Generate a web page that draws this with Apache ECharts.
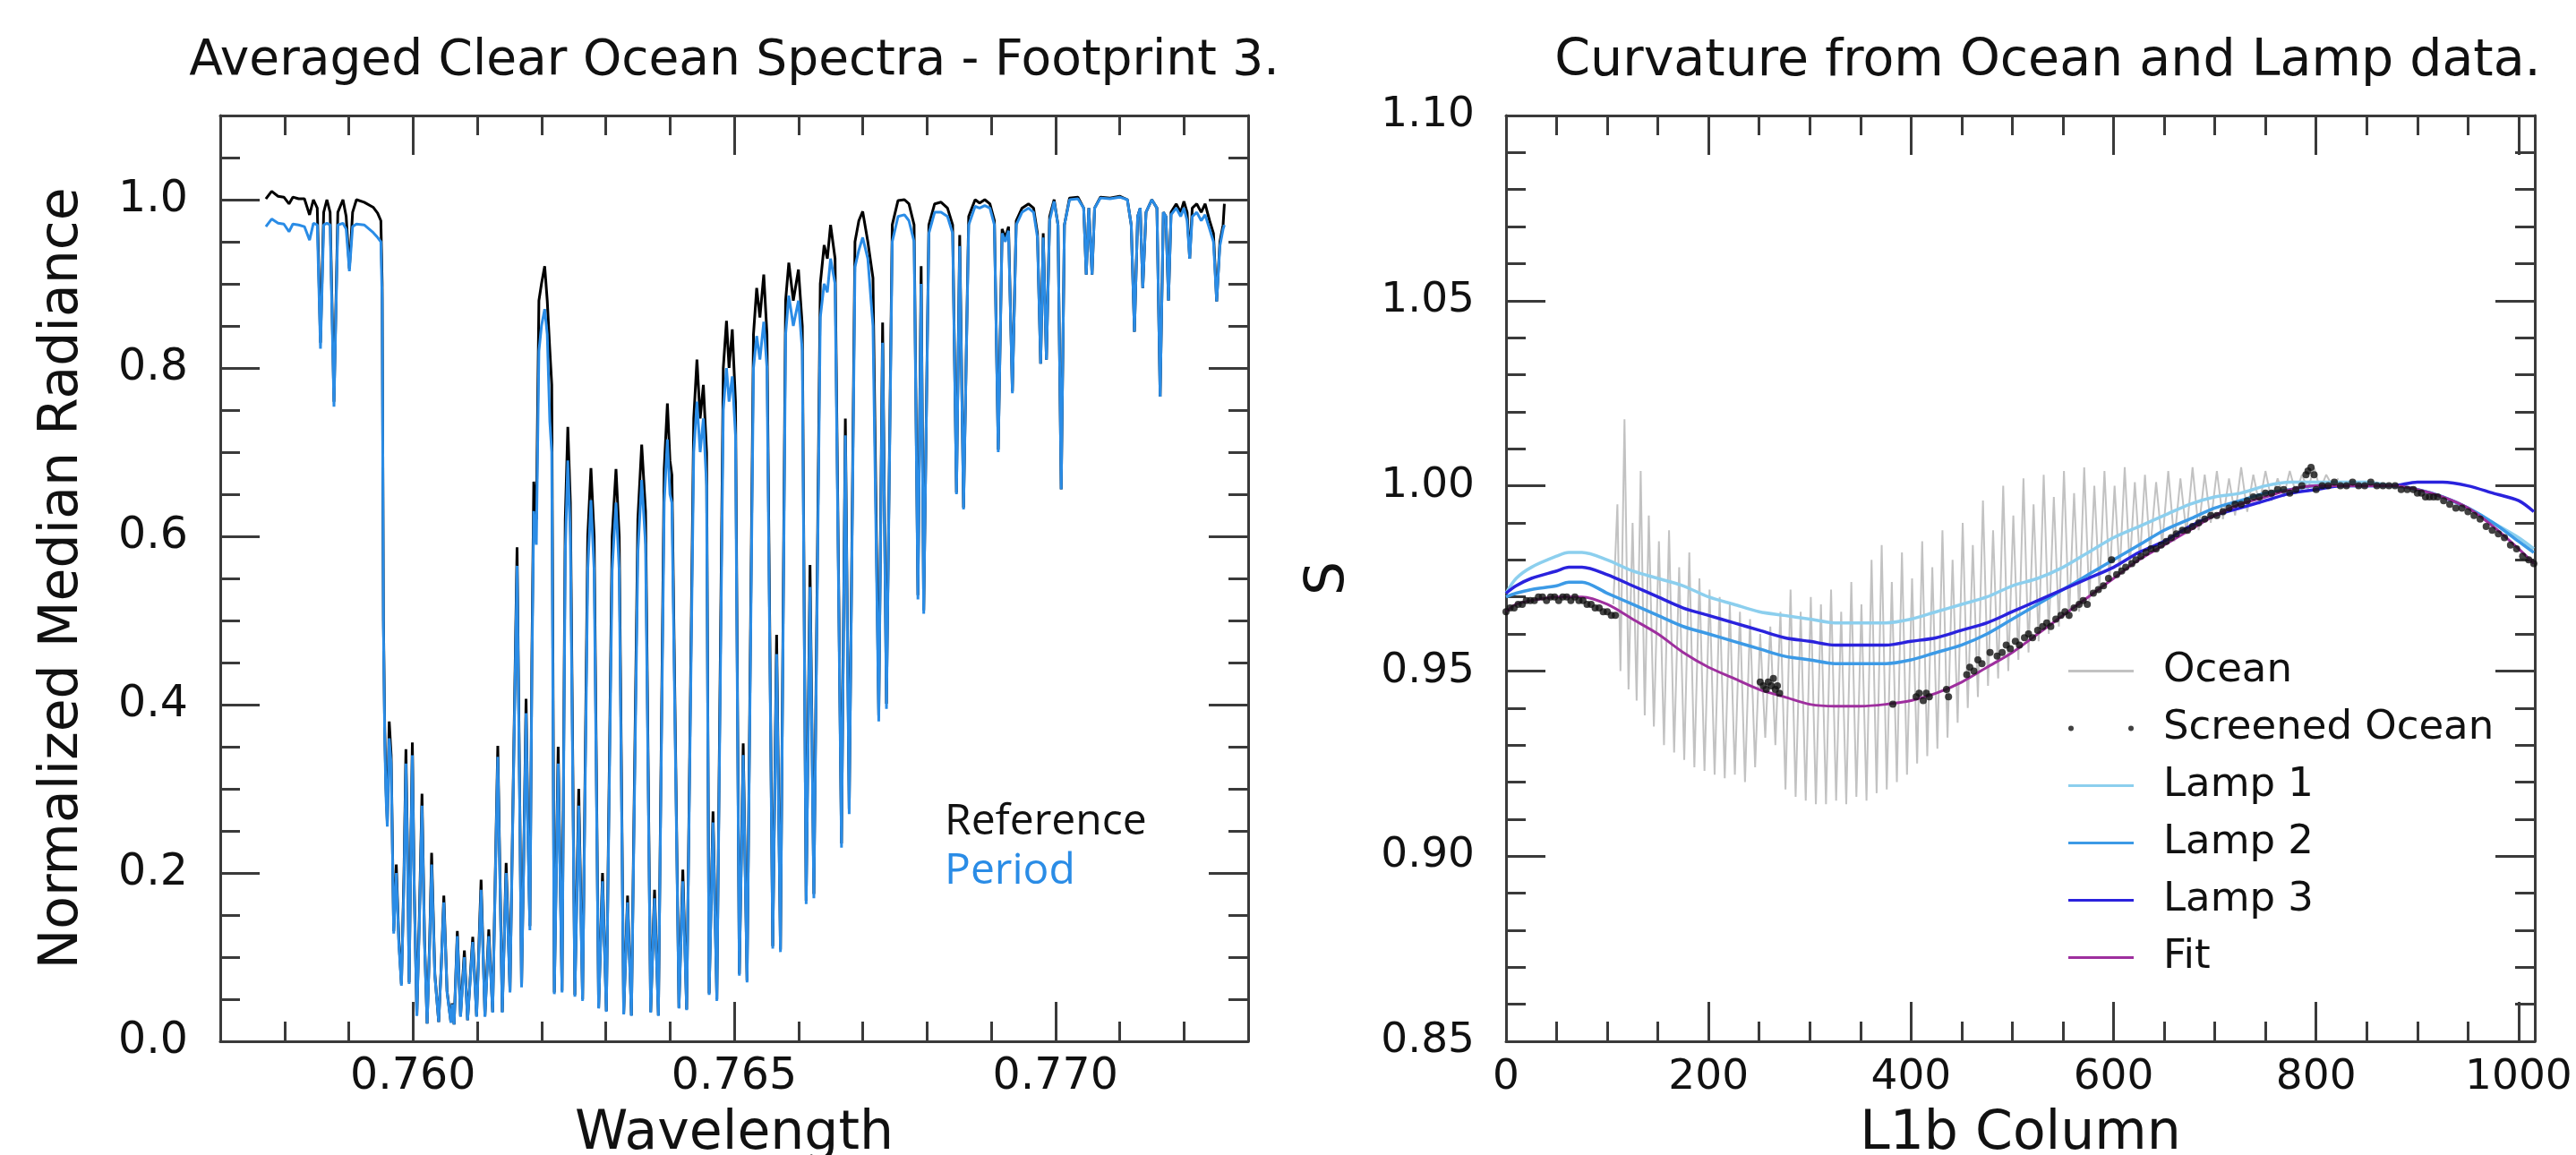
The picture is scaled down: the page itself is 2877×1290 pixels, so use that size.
<!DOCTYPE html>
<html>
<head>
<meta charset="utf-8">
<title>Ocean spectra and curvature</title>
<script src="https://cdn.jsdelivr.net/npm/echarts@6/dist/echarts.min.js"></script>
<style>
  html, body { margin: 0; padding: 0; background: #fff; }
  #chart { width: 2877px; height: 1290px; }
</style>
</head>
<body>
<div id="chart"></div>
<script>
// ---- left panel: averaged spectra ----
// continuum before the band head
var headWl = [0.75771, 0.75780, 0.75790, 0.75799, 0.75807, 0.75813, 0.75822, 0.75831, 0.75839, 0.75845,
  0.75851, 0.75856, 0.75861, 0.75866, 0.75871, 0.75877, 0.75883, 0.75891, 0.75896, 0.75901,
  0.75906, 0.75912, 0.75924, 0.75938, 0.75945, 0.75950, 0.75952];
var headRef = [1.001, 1.010, 1.004, 1.003, 0.995, 1.003, 1.001, 1.001, 0.982, 1.000,
  0.990, 0.830, 0.985, 1.000, 0.985, 0.760, 0.985, 1.000, 0.980, 0.918,
  0.985, 1.000, 0.997, 0.991, 0.984, 0.975, 0.900];
var headPer = [0.968, 0.977, 0.972, 0.971, 0.962, 0.971, 0.970, 0.968, 0.952, 0.972,
  0.970, 0.823, 0.970, 0.972, 0.970, 0.754, 0.970, 0.972, 0.965, 0.915,
  0.968, 0.971, 0.970, 0.961, 0.955, 0.950, 0.880];

// R branch
var rBranchWl = [0.75954, 0.75956, 0.75958, 0.75960, 0.75963, 0.75966, 0.75970, 0.75974, 0.75978, 0.75982,
  0.75986, 0.75989, 0.75992, 0.75994, 0.75997, 0.75999, 0.76002, 0.76006, 0.76010, 0.76014,
  0.76018, 0.76022, 0.76026, 0.76029, 0.76034, 0.76040, 0.76044, 0.76048, 0.76053, 0.76059,
  0.76061, 0.76064, 0.76069, 0.76074, 0.76080, 0.76085, 0.76093, 0.76099, 0.76106, 0.76112,
  0.76118, 0.76124, 0.76132, 0.76139, 0.76145, 0.76151, 0.76157, 0.76162, 0.76166, 0.76169,
  0.76173, 0.76176, 0.76179, 0.76182, 0.76185, 0.76188, 0.76192, 0.76196, 0.76200, 0.76205,
  0.76209, 0.76213, 0.76216];
var rBranchRef = [0.500, 0.370, 0.300, 0.260, 0.380, 0.340, 0.131, 0.210, 0.120, 0.068,
  0.200, 0.347, 0.200, 0.070, 0.250, 0.355, 0.180, 0.031, 0.150, 0.294,
  0.120, 0.021, 0.120, 0.224, 0.080, 0.023, 0.090, 0.173, 0.060, 0.023,
  0.045, 0.020, 0.131, 0.030, 0.108, 0.025, 0.124, 0.030, 0.192, 0.030,
  0.133, 0.035, 0.351, 0.035, 0.212, 0.060, 0.350, 0.587, 0.300, 0.066,
  0.250, 0.407, 0.250, 0.137, 0.450, 0.665, 0.620, 0.880, 0.900, 0.921,
  0.880, 0.821, 0.780];
var rBranchPer = [0.490, 0.360, 0.290, 0.255, 0.360, 0.330, 0.128, 0.200, 0.115, 0.066,
  0.190, 0.330, 0.190, 0.068, 0.240, 0.340, 0.175, 0.030, 0.140, 0.280,
  0.115, 0.021, 0.115, 0.210, 0.078, 0.023, 0.088, 0.165, 0.058, 0.022,
  0.044, 0.020, 0.125, 0.029, 0.100, 0.025, 0.118, 0.029, 0.180, 0.029,
  0.125, 0.034, 0.338, 0.034, 0.200, 0.058, 0.340, 0.565, 0.290, 0.064,
  0.240, 0.390, 0.240, 0.132, 0.430, 0.630, 0.590, 0.820, 0.850, 0.870,
  0.840, 0.736, 0.700];

// P branch doublets
var pBranchWl = [0.76220, 0.76226, 0.76232, 0.76237, 0.76241, 0.76245, 0.76252, 0.76258, 0.76264, 0.76272,
  0.76277, 0.76282, 0.76289, 0.76295, 0.76301, 0.76310, 0.76316, 0.76321, 0.76328, 0.76334,
  0.76340, 0.76350, 0.76356, 0.76362, 0.76370, 0.76376, 0.76382, 0.76391, 0.76396, 0.76400,
  0.76403, 0.76414, 0.76420, 0.76426, 0.76437, 0.76442, 0.76447, 0.76452, 0.76457, 0.76461,
  0.76467, 0.76473, 0.76483, 0.76488, 0.76492, 0.76497, 0.76502, 0.76508, 0.76514, 0.76520,
  0.76530, 0.76535, 0.76540, 0.76546, 0.76551, 0.76560, 0.76566, 0.76572, 0.76580, 0.76585,
  0.76592, 0.76600, 0.76606, 0.76612, 0.76618, 0.76624, 0.76634, 0.76640, 0.76645, 0.76650,
  0.76657, 0.76667, 0.76673, 0.76679, 0.76688, 0.76694, 0.76700, 0.76708, 0.76716, 0.76725,
  0.76731, 0.76737];
var pBranchRef = [0.058, 0.350, 0.060, 0.620, 0.730, 0.640, 0.055, 0.300, 0.050, 0.600,
  0.681, 0.600, 0.040, 0.200, 0.036, 0.600, 0.680, 0.600, 0.033, 0.173,
  0.031, 0.620, 0.709, 0.630, 0.035, 0.180, 0.031, 0.680, 0.758, 0.690,
  0.673, 0.040, 0.204, 0.038, 0.740, 0.810, 0.740, 0.780, 0.700, 0.057,
  0.273, 0.050, 0.800, 0.856, 0.800, 0.846, 0.760, 0.080, 0.354, 0.072,
  0.840, 0.895, 0.860, 0.911, 0.840, 0.113, 0.483, 0.109, 0.880, 0.925,
  0.880, 0.917, 0.850, 0.167, 0.566, 0.175, 0.900, 0.946, 0.930, 0.970,
  0.930, 0.235, 0.740, 0.276, 0.950, 0.975, 0.986, 0.950, 0.907, 0.387,
  0.854, 0.401];
var pBranchPer = [0.056, 0.330, 0.058, 0.580, 0.690, 0.600, 0.053, 0.280, 0.048, 0.560,
  0.643, 0.560, 0.039, 0.190, 0.035, 0.560, 0.640, 0.560, 0.032, 0.165,
  0.030, 0.580, 0.667, 0.590, 0.034, 0.170, 0.030, 0.640, 0.715, 0.650,
  0.640, 0.039, 0.190, 0.037, 0.700, 0.760, 0.700, 0.740, 0.660, 0.055,
  0.260, 0.048, 0.750, 0.800, 0.760, 0.790, 0.720, 0.078, 0.340, 0.070,
  0.800, 0.838, 0.810, 0.855, 0.800, 0.110, 0.460, 0.106, 0.840, 0.886,
  0.850, 0.880, 0.820, 0.163, 0.540, 0.170, 0.860, 0.900, 0.890, 0.930,
  0.900, 0.230, 0.720, 0.270, 0.920, 0.940, 0.955, 0.930, 0.850, 0.380,
  0.830, 0.395];

// far wing, weak lines
var wingWl = [0.76746, 0.76755, 0.76765, 0.76772, 0.76780, 0.76786, 0.76791, 0.76795, 0.76803, 0.76812,
  0.76822, 0.76832, 0.76840, 0.76846, 0.76851, 0.76857, 0.76865, 0.76875, 0.76882, 0.76890,
  0.76898, 0.76905, 0.76911, 0.76917, 0.76922, 0.76927, 0.76933, 0.76939, 0.76948, 0.76958,
  0.76966, 0.76972, 0.76977, 0.76981, 0.76986, 0.76991, 0.76998, 0.77004, 0.77009, 0.77014,
  0.77022, 0.77035, 0.77044, 0.77048, 0.77052, 0.77057, 0.77061, 0.77070, 0.77085, 0.77100,
  0.77112, 0.77118, 0.77123, 0.77128, 0.77132, 0.77136, 0.77141, 0.77150, 0.77158, 0.77163,
  0.77168, 0.77172, 0.77176, 0.77180, 0.77188, 0.77195, 0.77200, 0.77205, 0.77209, 0.77213,
  0.77220, 0.77227, 0.77233, 0.77240, 0.77246, 0.77251, 0.77256, 0.77261, 0.77263];
var wingRef = [0.970, 0.999, 1.000, 0.995, 0.970, 0.530, 0.921, 0.512, 0.970, 0.995,
  0.997, 0.990, 0.970, 0.652, 0.958, 0.634, 0.980, 1.000, 0.996, 1.000,
  0.995, 0.975, 0.703, 0.965, 0.955, 0.968, 0.772, 0.975, 0.990, 0.995,
  0.990, 0.960, 0.805, 0.960, 0.810, 0.980, 1.000, 0.970, 0.656, 0.970,
  1.002, 1.003, 0.990, 0.911, 0.990, 0.911, 0.990, 1.003, 1.002, 1.004,
  1.000, 0.970, 0.843, 0.980, 0.990, 0.895, 0.985, 1.000, 0.990, 0.766,
  0.985, 0.980, 0.880, 0.985, 0.995, 0.985, 0.998, 0.985, 0.930, 0.990,
  0.995, 0.985, 0.995, 0.975, 0.960, 0.879, 0.950, 0.970, 0.995];
var wingPer = [0.950, 0.980, 0.982, 0.975, 0.950, 0.525, 0.900, 0.508, 0.960, 0.985,
  0.985, 0.980, 0.960, 0.650, 0.945, 0.632, 0.970, 0.992, 0.990, 0.993,
  0.990, 0.970, 0.700, 0.960, 0.950, 0.963, 0.770, 0.970, 0.985, 0.990,
  0.985, 0.955, 0.805, 0.955, 0.810, 0.975, 0.998, 0.970, 0.656, 0.970,
  1.000, 1.001, 0.990, 0.911, 0.990, 0.911, 0.990, 1.002, 1.001, 1.003,
  1.000, 0.970, 0.843, 0.980, 0.990, 0.895, 0.985, 1.000, 0.990, 0.766,
  0.985, 0.980, 0.880, 0.982, 0.990, 0.980, 0.990, 0.975, 0.930, 0.980,
  0.985, 0.975, 0.982, 0.965, 0.950, 0.879, 0.945, 0.965, 0.970];

// ---- right panel: curvature ----
var lampCol = [0, 10, 25, 50, 62, 75, 100, 125, 150, 175, 200, 225, 250, 275, 300, 325, 350, 375, 400, 425,
  450, 475, 500, 525, 550, 575, 600, 625, 650, 675, 700, 725, 750, 775, 800, 825, 850, 875, 900, 925,
  950, 975, 1000, 1015];
var lamp1 = [0.971, 0.975, 0.978, 0.981, 0.982, 0.982, 0.980, 0.977, 0.975, 0.973, 0.970, 0.968, 0.966, 0.965, 0.964, 0.963, 0.963, 0.963, 0.964, 0.966,
  0.968, 0.970, 0.973, 0.975, 0.978, 0.982, 0.986, 0.989, 0.992, 0.995, 0.997, 0.998, 1.000, 1.001, 1.001, 1.001, 1.001, 1.000, 0.999, 0.997,
  0.994, 0.990, 0.986, 0.983];
var lamp2 = [0.970, 0.971, 0.972, 0.973, 0.974, 0.974, 0.971, 0.968, 0.965, 0.962, 0.960, 0.958, 0.956, 0.954, 0.953, 0.952, 0.952, 0.952, 0.953, 0.955,
  0.957, 0.960, 0.964, 0.968, 0.972, 0.976, 0.980, 0.984, 0.988, 0.991, 0.994, 0.996, 0.998, 0.999, 1.000, 1.000, 1.000, 1.000, 0.999, 0.997,
  0.994, 0.990, 0.985, 0.982];
var lamp3 = [0.971, 0.973, 0.975, 0.977, 0.978, 0.978, 0.976, 0.973, 0.970, 0.967, 0.965, 0.963, 0.961, 0.959, 0.958, 0.957, 0.957, 0.957, 0.958, 0.959,
  0.961, 0.963, 0.966, 0.969, 0.972, 0.975, 0.978, 0.982, 0.985, 0.989, 0.992, 0.994, 0.996, 0.998, 0.999, 1.000, 1.000, 1.000, 1.001, 1.001,
  1.000, 0.998, 0.996, 0.993];
var fitS = [0.966, 0.968, 0.969, 0.970, 0.970, 0.970, 0.968, 0.964, 0.960, 0.955, 0.951, 0.948, 0.945, 0.943, 0.941, 0.9405, 0.9405, 0.941, 0.942, 0.944,
  0.947, 0.951, 0.955, 0.960, 0.965, 0.970, 0.975, 0.980, 0.984, 0.988, 0.992, 0.995, 0.997, 0.999, 1.000, 1.000, 1.000, 1.000, 0.999, 0.997,
  0.994, 0.989, 0.983, 0.979];

var oceanCol = [106, 110, 113, 117, 121, 125, 129, 133, 137, 141,
  146, 151, 156, 161, 166, 171, 176, 181, 186, 191,
  196, 201, 206, 211, 216, 221, 226, 231, 236, 241,
  246, 251, 256, 261, 266, 271, 276, 281, 286, 291,
  296, 301, 306, 311, 316, 321, 326, 331, 336, 341,
  346, 351, 356, 361, 366, 371, 376, 381, 386, 391,
  396, 401, 406, 411, 416, 421, 426, 431, 436, 441,
  446, 451, 456, 461, 466, 471, 476, 481, 486, 491,
  496, 501, 506, 511, 516, 521, 526, 531, 536, 541,
  546, 551, 556, 561, 566, 571, 576, 581, 586, 591,
  596, 601, 606, 611, 616, 621, 626, 631, 636, 642,
  648, 654, 660, 666, 672, 678, 684, 690, 696, 702,
  708, 714, 720, 726, 732, 738, 744, 750, 756, 762,
  768, 774, 780, 786, 792, 798, 804, 810, 816, 822];
var oceanS = [0.968, 0.995, 0.950, 1.018, 0.945, 0.990, 0.942, 1.004, 0.938, 0.992,
  0.935, 0.985, 0.930, 0.988, 0.928, 0.978, 0.926, 0.982, 0.924, 0.975,
  0.923, 0.972, 0.922, 0.970, 0.921, 0.968, 0.922, 0.966, 0.920, 0.964,
  0.924, 0.960, 0.932, 0.962, 0.930, 0.966, 0.918, 0.972, 0.916, 0.966,
  0.915, 0.970, 0.914, 0.968, 0.914, 0.972, 0.915, 0.966, 0.914, 0.974,
  0.916, 0.968, 0.915, 0.980, 0.917, 0.984, 0.918, 0.974, 0.920, 0.982,
  0.922, 0.975, 0.925, 0.985, 0.927, 0.978, 0.929, 0.988, 0.932, 0.980,
  0.936, 0.990, 0.940, 0.984, 0.943, 0.996, 0.946, 0.988, 0.948, 1.000,
  0.950, 0.992, 0.953, 1.002, 0.955, 0.995, 0.958, 1.003, 0.960, 0.997,
  0.962, 1.004, 0.964, 0.998, 0.966, 1.005, 0.969, 1.000, 0.972, 1.004,
  0.974, 1.000, 0.976, 1.005, 0.978, 1.001, 0.980, 1.003, 0.982, 1.001,
  0.984, 1.004, 0.985, 1.002, 0.987, 1.005, 0.988, 1.003, 0.990, 1.004,
  0.991, 1.002, 0.992, 1.005, 0.993, 1.003, 0.995, 1.004, 0.996, 1.002,
  0.997, 1.004, 0.998, 1.003, 0.999, 1.005, 0.999, 1.003, 1.000, 1.002];

var dotCol = [0, 4, 8, 12, 16, 20, 24, 28, 32, 36,
  40, 44, 48, 52, 56, 60, 64, 68, 72, 76,
  80, 84, 88, 92, 96, 100, 104, 108,
  251, 254, 257, 259, 262, 264, 266, 268, 270,
  382, 405, 408, 412, 415, 418, 435, 437, 455, 458, 462, 466, 470, 478,
  485, 490, 494, 498, 503, 507, 512, 516, 520, 525,
  530, 534, 538, 543, 548, 552, 556, 561, 566, 570,
  574, 580, 585, 590, 595, 598, 603, 608, 612, 618,
  622, 627, 632, 637, 642, 647, 652, 657, 662, 668,
  673, 678, 684, 690, 696, 702, 708, 714, 720, 726,
  732, 738, 744, 750, 756, 762, 768, 774, 780, 786,
  790, 792, 795, 798, 800, 806, 812, 818, 824, 830,
  836, 842, 848, 854, 860, 866, 872, 878, 884, 890,
  896, 900, 904, 908, 912, 916, 920, 926, 932, 938,
  944, 950, 956, 962, 968, 974, 980, 986, 992, 998,
  1004, 1010, 1015];
var dotS = [0.966, 0.967, 0.967, 0.968, 0.968, 0.969, 0.969, 0.969, 0.970, 0.970,
  0.969, 0.970, 0.970, 0.969, 0.970, 0.970, 0.969, 0.970, 0.969, 0.969,
  0.968, 0.968, 0.967, 0.967, 0.966, 0.966, 0.965, 0.965,
  0.947, 0.946, 0.945, 0.947, 0.946, 0.948, 0.945, 0.946, 0.944,
  0.941, 0.943, 0.944, 0.942, 0.944, 0.943, 0.945, 0.943, 0.949, 0.951, 0.950, 0.953, 0.952, 0.955,
  0.954, 0.955, 0.957, 0.956, 0.958, 0.957, 0.959, 0.960, 0.959, 0.961,
  0.962, 0.963, 0.962, 0.964, 0.965, 0.966, 0.965, 0.967, 0.968, 0.969,
  0.968, 0.971, 0.972, 0.973, 0.975, 0.980, 0.976, 0.977, 0.978, 0.979,
  0.980, 0.981, 0.982, 0.983, 0.983, 0.984, 0.985, 0.986, 0.987, 0.988,
  0.988, 0.989, 0.990, 0.991, 0.992, 0.992, 0.993, 0.994, 0.995, 0.995,
  0.996, 0.997, 0.997, 0.998, 0.998, 0.999, 0.999, 0.998, 0.999, 1.000,
  1.003, 1.004, 1.005, 1.003, 0.999, 1.000, 1.000, 1.001, 1.000, 1.000,
  1.001, 1.000, 1.000, 1.001, 1.000, 1.000, 1.000, 1.000, 0.999, 0.999,
  0.999, 0.998, 0.998, 0.997, 0.997, 0.997, 0.997, 0.996, 0.995, 0.994,
  0.994, 0.993, 0.992, 0.991, 0.989, 0.988, 0.987, 0.986, 0.984, 0.983,
  0.981, 0.980, 0.979];

// tick labels
var leftXTicks = [0.760, 0.765, 0.770];
var leftYTicks = [0.0, 0.2, 0.4, 0.6, 0.8, 1.0];
var rightXTicks = [0, 200, 400, 600, 800, 1000];
var rightYTicks = [0.85, 0.90, 0.95, 1.00, 1.05, 1.10];

var AXIS = '#3a3a3a', INK = '#111', FONT = 'DejaVu Sans';
var BLUE = '#2a8ce6';
var LINE_ICON = 'path://M0,0H73V3H0Z';
var DOTS_ICON = 'path://M0,3A3,3 0 1,0 6,3A3,3 0 1,0 0,3Z M67,3A3,3 0 1,0 73,3A3,3 0 1,0 67,3Z';

function zip(xs, ys) {
    return xs.map(function (x, i) { return [x, ys[i]]; });
}

var wavelength = headWl.concat(rBranchWl, pBranchWl, wingWl);
var reference = headRef.concat(rBranchRef, pBranchRef, wingRef);
var period = headPer.concat(rBranchPer, pBranchPer, wingPer);

/**
 * boxed axis with inward ticks, like the IDL plots
 */
function boxAxis(o) {
    return {
        type: 'value',
        gridIndex: o.grid,
        position: o.pos,
        min: o.min,
        max: o.max,
        splitNumber: o.split,
        minInterval: o.step,
        maxInterval: o.step,
        axisLine: { show: true, onZero: false, lineStyle: { color: AXIS, width: 3 } },
        axisTick: { show: true, inside: true, length: 44, customValues: o.ticks, lineStyle: { color: AXIS, width: 3 } },
        minorTick: { show: true, splitNumber: o.minor, length: 22, lineStyle: { color: AXIS, width: 3 } },
        splitLine: { show: false },
        axisLabel: {
            show: !!o.labels,
            customValues: o.ticks,
            margin: o.margin || 8,
            formatter: function (v) { return o.digits == null ? String(v) : v.toFixed(o.digits); },
            fontFamily: FONT,
            fontSize: o.labelSize || 49,
            color: INK
        },
        name: o.name || '',
        nameLocation: 'middle',
        nameGap: o.nameGap || 0,
        nameRotate: o.nameRotate || 0,
        nameMoveOverlap: false,
        nameTextStyle: { fontFamily: FONT, fontSize: 60, lineHeight: 60, color: INK }
    };
}

var chart = echarts.init(document.getElementById('chart'));

var option = {
    animation: false,
    backgroundColor: '#fff',
    textStyle: { fontFamily: FONT },
    grid: [
        { left: 246, top: 129, width: 1148, height: 1034, containLabel: false, outerBoundsMode: 'none' },
        { left: 1682, top: 129, width: 1149, height: 1034, containLabel: false, outerBoundsMode: 'none' }
    ],
    xAxis: [
        boxAxis({ grid: 0, pos: 'bottom', min: 0.757, max: 0.773, split: 3, step: 0.005, minor: 5, ticks: leftXTicks,
            labels: true, digits: 3, margin: 16, name: 'Wavelength', nameGap: 74 }),
        boxAxis({ grid: 0, pos: 'top', min: 0.757, max: 0.773, split: 3, step: 0.005, minor: 5, ticks: leftXTicks }),
        boxAxis({ grid: 1, pos: 'bottom', min: 0, max: 1016, split: 5, step: 200, minor: 4, ticks: rightXTicks,
            labels: true, labelSize: 47, margin: 17, name: 'L1b Column', nameGap: 74 }),
        boxAxis({ grid: 1, pos: 'top', min: 0, max: 1016, split: 5, step: 200, minor: 4, ticks: rightXTicks })
    ],
    yAxis: [
        boxAxis({ grid: 0, pos: 'left', min: 0, max: 1.1, split: 5, step: 0.2, minor: 4, ticks: leftYTicks,
            labels: true, digits: 1, margin: 36, name: 'Normalized Median Radiance', nameGap: 146, nameRotate: 90 }),
        boxAxis({ grid: 0, pos: 'right', min: 0, max: 1.1, split: 5, step: 0.2, minor: 4, ticks: leftYTicks }),
        boxAxis({ grid: 1, pos: 'left', min: 0.85, max: 1.10, split: 5, step: 0.05, minor: 5, ticks: rightYTicks,
            labels: true, labelSize: 47, digits: 2, margin: 35, name: 'S', nameGap: 168, nameRotate: 90 }),
        boxAxis({ grid: 1, pos: 'right', min: 0.85, max: 1.10, split: 5, step: 0.05, minor: 5, ticks: rightYTicks })
    ],
    legend: [
        {
            data: [
                { name: 'Reference', textStyle: { color: INK } },
                { name: 'Period', textStyle: { color: BLUE } }
            ],
            orient: 'vertical', left: 1040, top: 894, padding: 0,
            icon: 'none', itemWidth: 10, itemHeight: 10, itemGap: 7,
            selectedMode: false,
            textStyle: { fontFamily: 'Open Sans', fontSize: 48, lineHeight: 48 }
        },
        {
            data: [
                { name: 'Ocean', icon: LINE_ICON },
                { name: 'Screened Ocean', icon: DOTS_ICON },
                { name: 'Lamp 1', icon: LINE_ICON },
                { name: 'Lamp 2', icon: LINE_ICON },
                { name: 'Lamp 3', icon: LINE_ICON },
                { name: 'Fit', icon: LINE_ICON }
            ],
            orient: 'vertical', left: 2310, top: 727, padding: 0,
            itemWidth: 73, itemHeight: 6, itemGap: 19, symbolKeepAspect: true,
            selectedMode: false,
            textStyle: { fontFamily: FONT, fontSize: 45, lineHeight: 45, color: INK, padding: [0, 0, 0, 28] }
        }
    ],
    graphic: [
        { type: 'text', x: 820, y: 69, silent: true,
          style: { text: 'Averaged Clear Ocean Spectra - Footprint 3.', font: '55px "DejaVu Sans"', fill: INK,
                   textAlign: 'center', textVerticalAlign: 'middle' } },
        { type: 'text', x: 2287, y: 69, silent: true,
          style: { text: 'Curvature from Ocean and Lamp data.', font: '57px "DejaVu Sans"', fill: INK,
                   textAlign: 'center', textVerticalAlign: 'middle' } }
    ],
    series: [
        { name: 'Reference', type: 'line', xAxisIndex: 0, yAxisIndex: 0, data: zip(wavelength, reference),
          symbol: 'none', lineStyle: { color: '#000', width: 3 }, itemStyle: { color: '#000' }, z: 2 },
        { name: 'Period', type: 'line', xAxisIndex: 0, yAxisIndex: 0, data: zip(wavelength, period),
          symbol: 'none', lineStyle: { color: BLUE, width: 3 }, itemStyle: { color: BLUE }, z: 3 },

        { name: 'Ocean', type: 'line', xAxisIndex: 2, yAxisIndex: 2, data: zip(oceanCol, oceanS),
          symbol: 'none', lineStyle: { color: '#c2c2c2', width: 2 }, itemStyle: { color: '#c2c2c2' }, z: 2 },
        { name: 'Lamp 1', type: 'line', xAxisIndex: 2, yAxisIndex: 2, data: zip(lampCol, lamp1), smooth: 0.3,
          symbol: 'none', lineStyle: { color: '#8ccfee', width: 3.5 }, itemStyle: { color: '#8ccfee' }, z: 3 },
        { name: 'Lamp 2', type: 'line', xAxisIndex: 2, yAxisIndex: 2, data: zip(lampCol, lamp2), smooth: 0.3,
          symbol: 'none', lineStyle: { color: '#3c9ae6', width: 3.5 }, itemStyle: { color: '#3c9ae6' }, z: 3 },
        { name: 'Lamp 3', type: 'line', xAxisIndex: 2, yAxisIndex: 2, data: zip(lampCol, lamp3), smooth: 0.3,
          symbol: 'none', lineStyle: { color: '#2a22dd', width: 3.5 }, itemStyle: { color: '#2a22dd' }, z: 3 },
        { name: 'Fit', type: 'line', xAxisIndex: 2, yAxisIndex: 2, data: zip(lampCol, fitS), smooth: 0.3,
          symbol: 'none', lineStyle: { color: '#9e2f9e', width: 3 }, itemStyle: { color: '#9e2f9e' }, z: 4 },
        { name: 'Screened Ocean', type: 'scatter', xAxisIndex: 2, yAxisIndex: 2, data: zip(dotCol, dotS),
          symbol: 'circle', symbolSize: 8, itemStyle: { color: '#111' }, z: 5 }
    ]
};

chart.setOption(option);
</script>
</body>
</html>
